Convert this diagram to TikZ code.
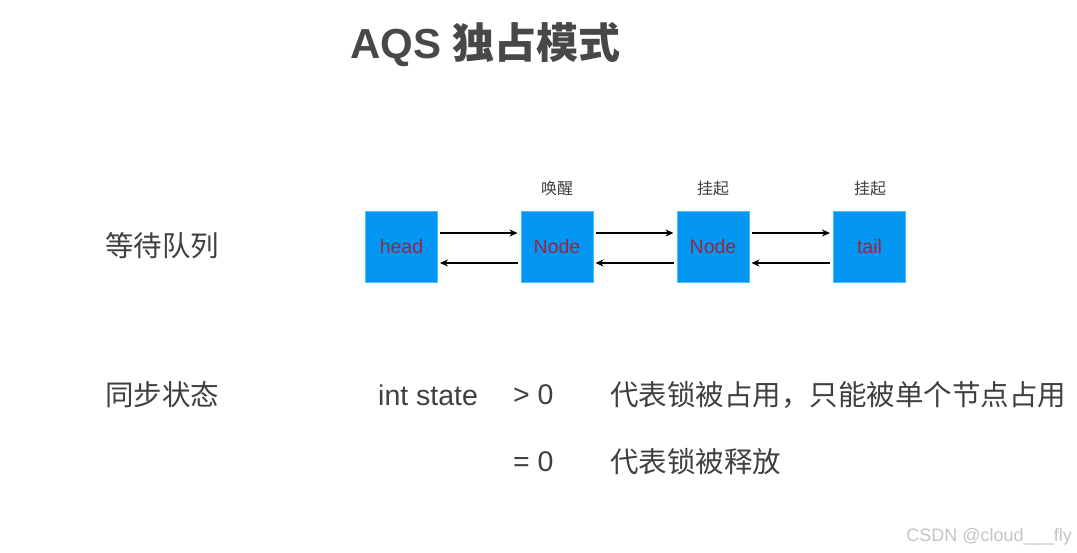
\documentclass[tikz,border=0pt]{standalone}
\usepackage{fontspec}
\setmainfont{Liberation Sans}
\newfontfamily\cjk{Noto Sans CJK SC}
\usetikzlibrary{arrows.meta}
\definecolor{boxfill}{RGB}{3,150,243}
\definecolor{boxedge}{RGB}{70,190,250}
\definecolor{boxtext}{RGB}{150,40,62}
\definecolor{ink}{RGB}{64,64,64}
\definecolor{titleink}{RGB}{72,72,72}
\definecolor{mark}{RGB}{196,196,196}
\tikzset{
  qbox/.style={draw=boxedge, fill=boxfill, line width=1pt, minimum width=72pt, minimum height=71pt,
    inner sep=0pt, text=boxtext, font=\fontsize{19.5}{22}\selectfont},
  lab/.style={inner sep=0pt, text=ink, font=\cjk\fontsize{16}{19}\selectfont},
  bodytext/.style={inner sep=0pt, anchor=west, text=ink, font=\fontsize{28.5}{33}\selectfont},
  cjktext/.style={bodytext, font=\cjk\fontsize{28.5}{33}\selectfont},
  link/.style={line width=1.2pt, -{Stealth[length=8pt,width=7pt]}, black}
}
\begin{document}
\begin{tikzpicture}[x=1pt,y=-1pt]
\useasboundingbox (0,0) rectangle (1077,553);
\fill[white] (0,0) rectangle (1077,553);

% title
\node[inner sep=0pt, anchor=west, text=titleink] (title) at (350,45)
  {\fontsize{42}{48}\selectfont\bfseries AQS {\cjk\bfseries 独占模式}};

% waiting queue
\node[cjktext] (wq) at (105,246) {等待队列};

\node[qbox] (head) at (401.5,247) {head};
\node[qbox] (n1) at (557,247) {Node};
\node[qbox] (n2) at (713,247) {Node};
\node[qbox] (tail) at (869.5,247) {tail};

\node[lab] (l1) at (557,188) {唤醒};
\node[lab] (l2) at (713,188) {挂起};
\node[lab] (l3) at (870,188) {挂起};

% next / prev links
\foreach \a/\b in {head/n1, n1/n2, n2/tail}{
  \draw[link] ([xshift=2pt,yshift=14pt]\a.east) -- ([xshift=-3pt,yshift=14pt]\b.west);
  \draw[link] ([xshift=-3pt,yshift=-16pt]\b.west) -- ([xshift=2pt,yshift=-16pt]\a.east);
}

% synchronization state
\node[cjktext] (ss) at (105,395) {同步状态};
\node[bodytext] (is) at (378,395) {int state};
\node[bodytext] (gt) at (513,395) {> 0};
\node[bodytext] (eq) at (513,462) {= 0};
\node[cjktext] (d1) at (610,395) {代表锁被占用，只能被单个节点占用};
\node[cjktext] (d2) at (610,462) {代表锁被释放};

% footer
\node[inner sep=0pt, anchor=east, text=mark, font=\fontsize{18}{21}\selectfont] (wm) at (1072,537) {CSDN @cloud\_\_\_fly};
\end{tikzpicture}
\end{document}
